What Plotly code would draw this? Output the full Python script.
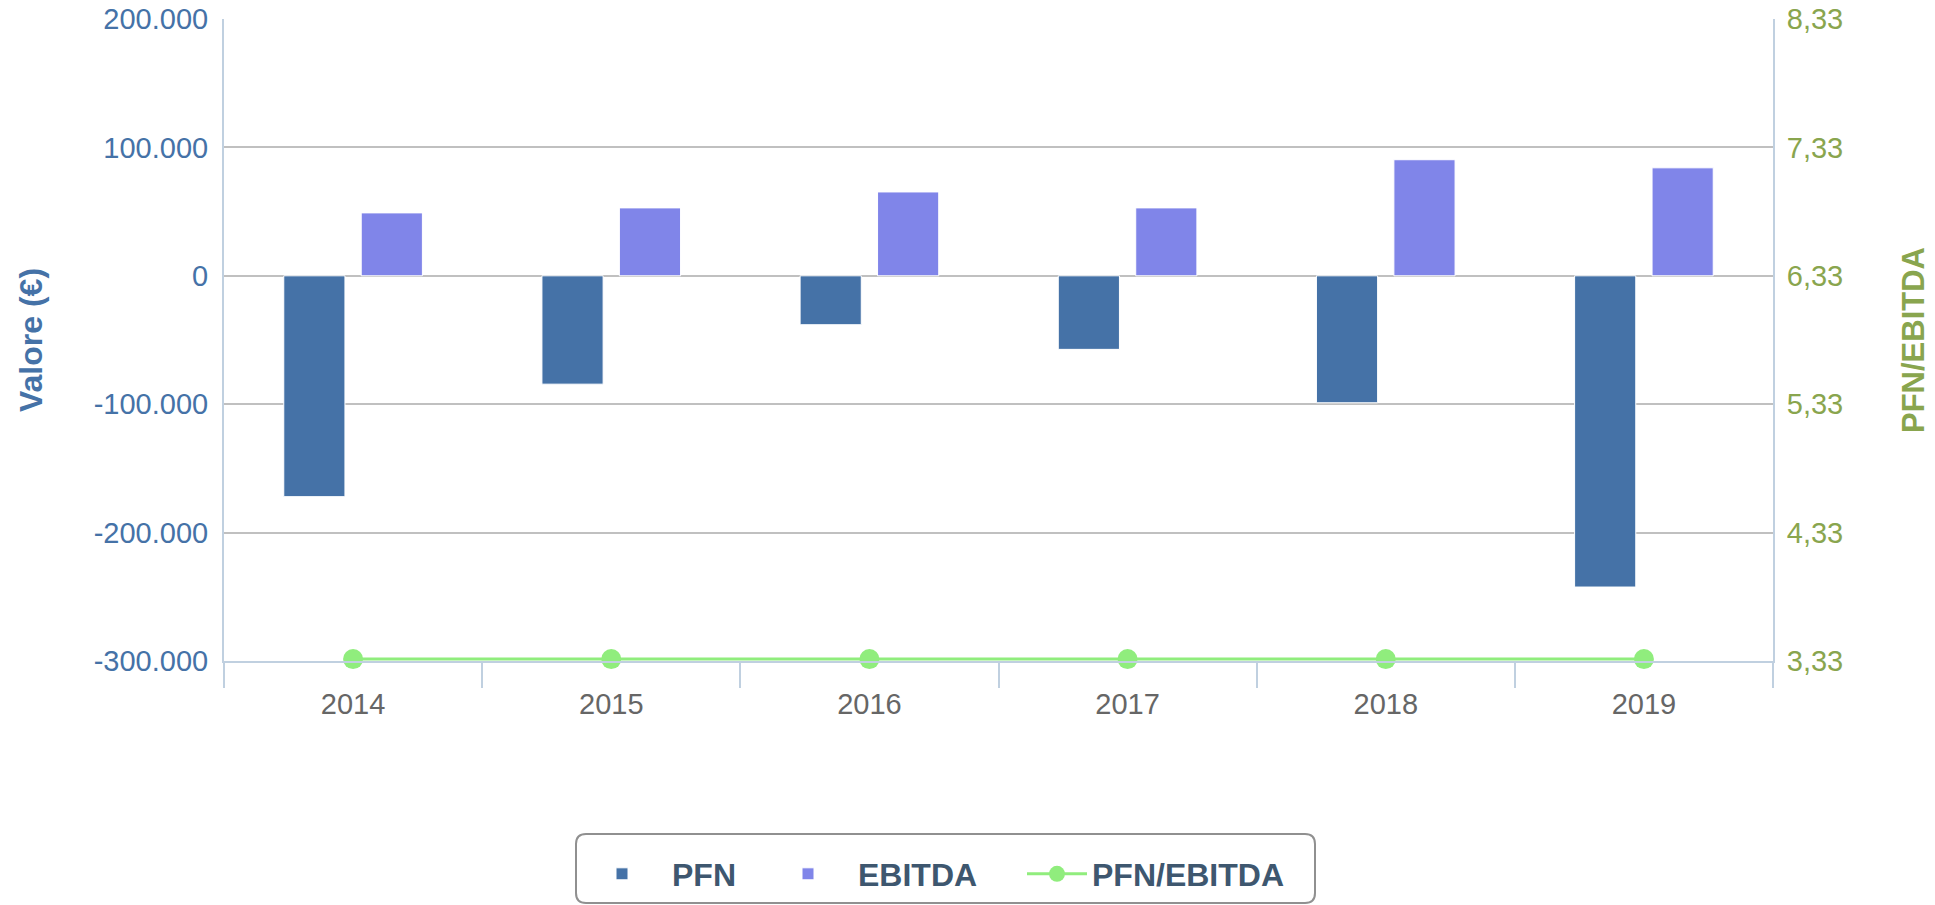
import plotly.graph_objects as go

# ---- data ----
YEARS = ["2014", "2015", "2016", "2017", "2018", "2019"]
PFN = [-172000, -84400, -38100, -57300, -98900, -242400]
EBITDA = [49000, 52900, 65300, 52900, 90400, 84100]
RATIO = [3.345, 3.345, 3.345, 3.345, 3.345, 3.345]

LEFT_TICKS = [-300000, -200000, -100000, 0, 100000, 200000]
LEFT_TICK_LABELS = ["-300.000", "-200.000", "-100.000", "0", "100.000", "200.000"]
RIGHT_TICKS = [3.33, 4.33, 5.33, 6.33, 7.33, 8.33]
RIGHT_TICK_LABELS = ["3,33", "4,33", "5,33", "6,33", "7,33", "8,33"]

# ---- styles ----
PFN_COLOR = "#4572A7"
EBITDA_COLOR = "#8085E9"
RATIO_COLOR = "#90ED7D"
RIGHT_COLOR = "#89A54E"
AXIS_LINE = "#C0D0E0"
GRID = "#C0C0C0"
LEGEND_TEXT = "#3E576F"
FONT = "Liberation Sans, Arial, Helvetica, sans-serif"

W, H = 1935, 905
ML, MR, MT, MB = 224, 162, 19, 244
PW, PH = W - ML - MR, H - MT - MB


def px_x(px):
    return (px - ML) / PW


def px_y(py):
    return (H - MB - py) / PH


fig = go.Figure()
fig.add_trace(go.Bar(
    x=YEARS, y=PFN, name="PFN", legend="legend",
    marker=dict(color=PFN_COLOR, line=dict(color="white", width=1)),
))
fig.add_trace(go.Bar(
    x=YEARS, y=EBITDA, name="EBITDA", legend="legend2",
    marker=dict(color=EBITDA_COLOR, line=dict(color="white", width=1)),
))
fig.add_trace(go.Scatter(
    x=YEARS, y=RATIO, name="PFN/EBITDA", yaxis="y2", legend="legend3",
    mode="lines+markers",
    line=dict(color=RATIO_COLOR, width=3),
    marker=dict(color=RATIO_COLOR, size=20),
    cliponaxis=False,
))

legend_font = dict(size=32, color=LEGEND_TEXT, weight="bold", family=FONT)
legend_common = dict(orientation="h", yanchor="middle", xanchor="left",
                     bgcolor="rgba(0,0,0,0)", borderwidth=0, font=legend_font)

# rounded legend frame
x0, x1 = px_x(576), px_x(1315)
yt, yb = px_y(834), px_y(903)
rx, ry = 10 / PW, 10 / PH
frame = (f"M{x0+rx},{yt} L{x1-rx},{yt} Q{x1},{yt} {x1},{yt-ry} "
         f"L{x1},{yb+ry} Q{x1},{yb} {x1-rx},{yb} L{x0+rx},{yb} "
         f"Q{x0},{yb} {x0},{yb+ry} L{x0},{yt-ry} Q{x0},{yt} {x0+rx},{yt} Z")

fig.update_layout(
    width=W, height=H,
    margin=dict(l=ML, r=MR, t=MT, b=MB, autoexpand=False),
    paper_bgcolor="white", plot_bgcolor="white",
    font=dict(family=FONT),
    barmode="group", bargap=0.4, bargroupgap=0.21,
    showlegend=True,
    xaxis=dict(
        type="category", tickson="boundaries",
        ticks="outside", ticklen=25, tickwidth=2, tickcolor=AXIS_LINE,
        showline=True, linecolor=AXIS_LINE, linewidth=2,
        showgrid=False, zeroline=False,
        ticklabelstandoff=16,
        tickfont=dict(size=29, color="#666666"),
    ),
    yaxis=dict(
        range=[-300000, 200000],
        tickmode="array", tickvals=LEFT_TICKS, ticktext=LEFT_TICK_LABELS,
        showgrid=True, gridcolor=GRID, gridwidth=2,
        zeroline=False, showline=True, linecolor=AXIS_LINE, linewidth=2,
        ticks="", ticklabelstandoff=8,
        tickfont=dict(size=29, color=PFN_COLOR),
        title=dict(text="Valore (€)", standoff=42,
                   font=dict(size=32, color=PFN_COLOR, weight="bold")),
    ),
    yaxis2=dict(
        overlaying="y", side="right",
        range=[3.33, 8.33],
        tickmode="array", tickvals=RIGHT_TICKS, ticktext=RIGHT_TICK_LABELS,
        showgrid=False, zeroline=False,
        showline=True, linecolor=AXIS_LINE, linewidth=2,
        ticks="", ticklabelstandoff=6,
        tickfont=dict(size=29, color=RIGHT_COLOR),
        title=dict(text="PFN/EBITDA", standoff=60,
                   font=dict(size=31, color=RIGHT_COLOR, weight="bold")),
    ),
    legend=dict(legend_common, x=px_x(622 - 50), y=px_y(874), itemwidth=90),
    legend2=dict(legend_common, x=px_x(808 - 50), y=px_y(874), itemwidth=90),
    legend3=dict(legend_common, x=px_x(1022), y=px_y(874), itemwidth=60),
    shapes=[dict(type="path", xref="paper", yref="paper", path=frame,
                 line=dict(color="#909090", width=2), fillcolor="white",
                 layer="below")],
)

fig.write_html("out.html", config={"displayModeBar": False},
               post_script="document.body.style.margin='0';")
